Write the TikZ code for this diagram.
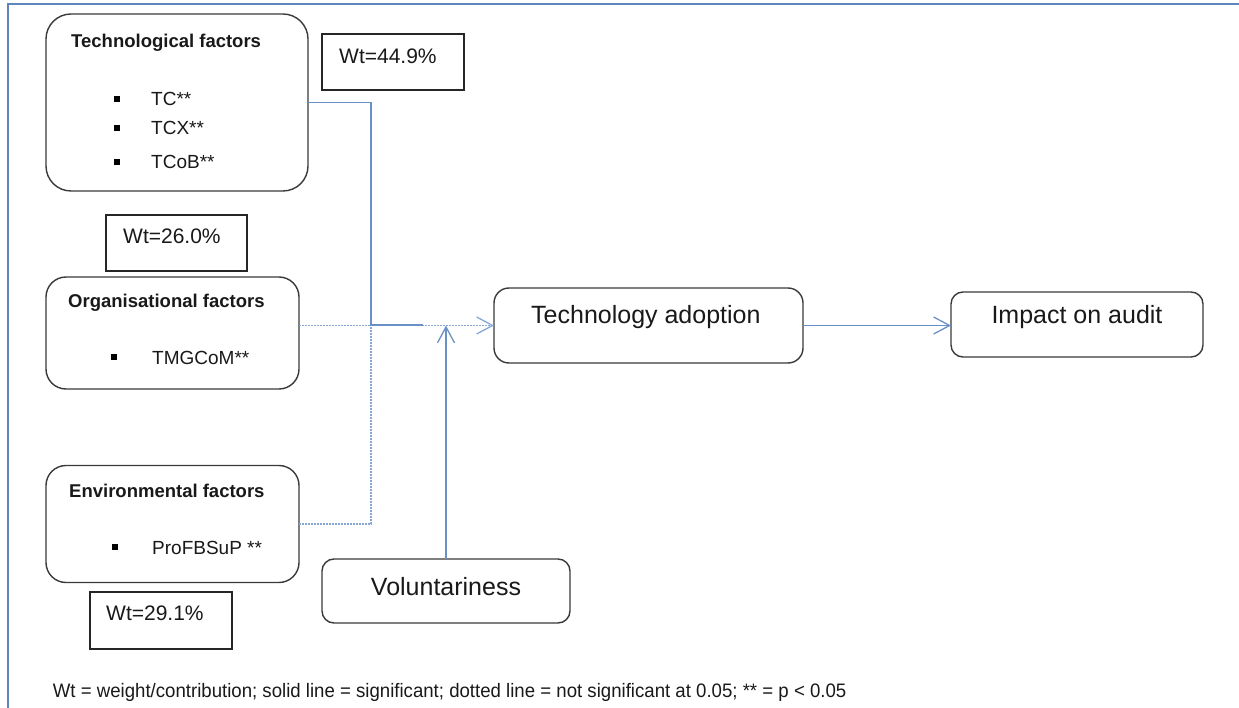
\documentclass[tikz,border=0pt]{standalone}
\usepackage{fontspec}
\setmainfont{Liberation Sans}
\newfontfamily\narrowfont[FakeStretch=0.955]{Liberation Sans}
\usetikzlibrary{arrows.meta}
\definecolor{framec}{HTML}{5F85BF}
\definecolor{sigc}{HTML}{6A90C8}
\definecolor{nsc}{HTML}{86A6D6}
\definecolor{boxc}{HTML}{3A3A3A}
\tikzset{
  rbox/.style={draw=boxc, line width=1.4pt, inner sep=0pt, outer sep=0pt, fill=white},
  wbox/.style={draw=black!85, line width=1.3pt, inner sep=0pt, outer sep=0pt},
  sig/.style={draw=sigc, line width=1.3pt},
  nsig/.style={draw=nsc, line width=1.4pt, dash pattern=on 1.6pt off 1.4pt},
  arr/.style={-{Straight Barb[length=16pt,width=17pt,line width=1.3pt]}},
  txt/.style={anchor=base west, inner sep=0pt, text=black!90},
  title/.style={txt, font=\fontsize{18.5}{22}\selectfont\bfseries},
  item/.style={txt, font=\fontsize{19}{22}\selectfont},
  wtxt/.style={txt, font=\fontsize{21}{25}\selectfont},
  big/.style={inner sep=0pt, text=black!90, font=\fontsize{25}{30}\selectfont},
  bul/.style={fill=black, inner sep=0pt, minimum size=5.5pt},
  frame/.style={draw=framec, line width=2pt}
}
\begin{document}
\begin{tikzpicture}[x=1pt,y=-1pt]
\useasboundingbox (0,0) rectangle (1239,708);
\draw[frame] (8,708) -- (8,4) -- (1239,4);

% boxes
\node[rbox, rounded corners=25pt, minimum width=262pt, minimum height=177pt] (tech) at (177,102.5) {};
\node[rbox, rounded corners=20pt, minimum width=253pt, minimum height=112pt] (org) at (172.5,333) {};
\node[rbox, rounded corners=20pt, minimum width=253pt, minimum height=117pt] (env) at (172.5,524) {};
\node[rbox, rounded corners=15pt, minimum width=309pt, minimum height=75pt] (tadopt) at (648.5,325.5) {};
\node[rbox, rounded corners=12pt, minimum width=252pt, minimum height=65pt] (impact) at (1077,324.5) {};
\node[rbox, rounded corners=12pt, minimum width=248pt, minimum height=64pt] (vol) at (446,591) {};

\node[wbox, minimum width=142pt, minimum height=56pt] (w1) at (393,62) {};
\node[wbox, minimum width=141pt, minimum height=56pt] (w2) at (176.5,243) {};
\node[wbox, minimum width=142pt, minimum height=57pt] (w3) at (161,620.5) {};

% texts
\node[title] (techt) at (71,48) {Technological factors};
\node[bul] (b1) at (117,99) {};
\node[item] (i1) at (151,106) {TC**};
\node[bul] (b2) at (117,128) {};
\node[item] (i2) at (151,135) {TCX**};
\node[bul] (b3) at (117,162) {};
\node[item] (i3) at (151,169) {TCoB**};

\node[title] (orgt) at (68,308) {Organisational factors};
\node[bul] (b4) at (114,357) {};
\node[item] (i4) at (152,364) {TMGCoM**};

\node[title] (envt) at (69,497) {Environmental factors};
\node[bul] (b5) at (115,547) {};
\node[item] (i5) at (152,554) {ProFBSuP **};

\node[wtxt] (w1t) at (339,64) {Wt=44.9\%};
\node[wtxt] (w2t) at (123,244) {Wt=26.0\%};
\node[wtxt] (w3t) at (106,620) {Wt=29.1\%};

\node[big, anchor=base west] (tadt) at (531,324) {Technology adoption};
\node[big] (impt) at (1077,317) {Impact on audit};
\node[big] (volt) at (446,587) {Voluntariness};

\node[txt, font=\narrowfont\fontsize{19.5}{23}\selectfont] (note) at (52.7,697)
  {Wt = weight/contribution; solid line = significant; dotted line = not significant at 0.05; ** = p < 0.05};

% connectors
\coordinate (j) at (371,325);
\coordinate (js) at (423,325);
\draw[nsig, arr] (org.east |- tadopt.west) -- (tadopt.west);
\draw[nsig] (env.east) -| (j);
\draw[sig] (tech.east) -| (j) -- (js);
\draw[sig, arr] (vol.north) -- (vol.north |- tadopt.west);
\draw[sig, arr] (tadopt.east) -- (tadopt.east -| impact.west);
\end{tikzpicture}
\end{document}
